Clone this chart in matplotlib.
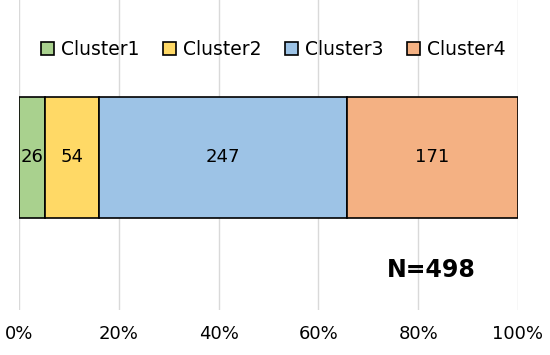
import matplotlib.pyplot as plt

plt.rcParams['font.family'] = ['DejaVu Sans']

clusters = ["Cluster1", "Cluster2", "Cluster3", "Cluster4"]
counts = [26, 54, 247, 171]
colors = ["#A9D18E", "#FFD966", "#9DC3E6", "#F4B183"]
ticks = [0, 20, 40, 60, 80, 100]

total = sum(counts)

fig = plt.figure(figsize=(5.5, 3.55), dpi=100)
ax = fig.add_axes([19 / 550, 1 - 310 / 355, 499 / 550, 310 / 355])

left = 0.0
for name, n, c in zip(clusters, counts, colors):
    w = n / total * 100
    ax.barh(0.492, w, left=left, height=0.39, color=c, edgecolor="black",
            linewidth=1.2, label=name, zorder=3)
    ax.text(left + w / 2, 0.492, str(n), ha="center", va="center",
            fontsize=13, zorder=4)
    left += w

ax.set_xlim(0, 100)
ax.set_ylim(0, 1)
ax.set_xticks(ticks)
ax.set_xticklabels([f"{t}%" for t in ticks], fontsize=13)
ax.set_yticks([])
ax.tick_params(axis="x", length=0, pad=11)
ax.grid(axis="x", color="#d9d9d9", linewidth=1, zorder=0)
for s in ax.spines.values():
    s.set_visible(False)

ax.text(82.7, 0.13, f"N={total}", ha="center", va="center",
        fontsize=17, fontweight="bold")

ax.legend(loc="center", bbox_to_anchor=(0.51, 0.839), ncol=4, frameon=False,
          fontsize=13.5, handlelength=0.7, handleheight=0.7,
          handletextpad=0.37, columnspacing=1.25, borderaxespad=0)

fig.savefig("out.png", dpi=100)
